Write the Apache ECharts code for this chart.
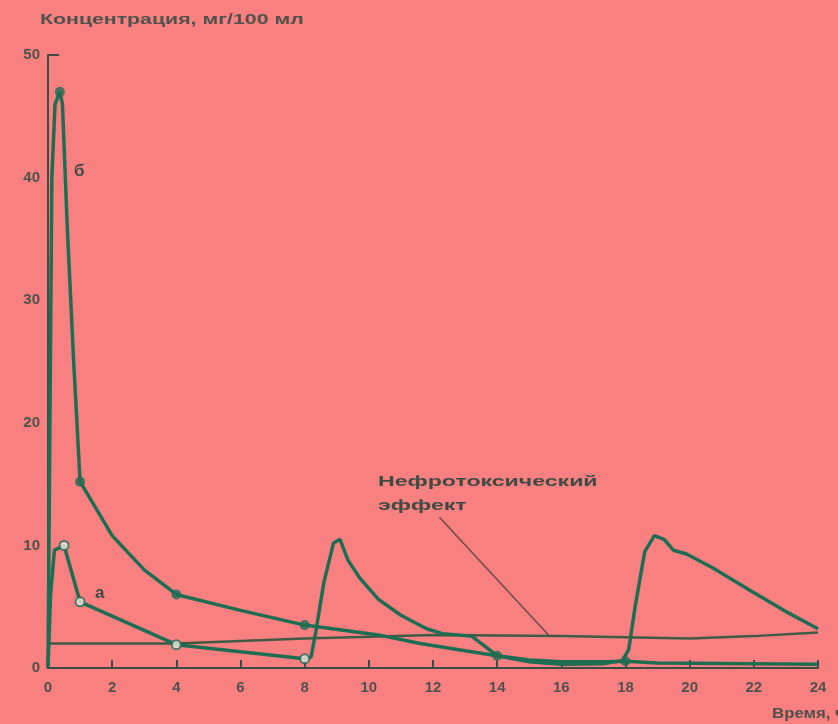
<!DOCTYPE html>
<html><head><meta charset="utf-8">
<script src="https://cdn.jsdelivr.net/npm/echarts@6/dist/echarts.min.js"></script>
<style>html,body{margin:0;padding:0;background:#F98080}#c{width:838px;height:724px}</style>
</head><body><div id="c"></div>
<script>
const titleText = 'Концентрация, мг/100 мл';
const xName = 'Время, ч';
const noteText = 'Нефротоксический\nэффект';
const labelA = 'а';
const labelB = 'б';

// curve б (single dose, filled markers)
const curveB = [[0,0],[0.06,20],[0.12,40],[0.22,46],[0.37,47],[0.45,46],[0.6,36],[0.8,25],[1,15.2],[2,10.8],[3,8],[4,6],[6,4.7],[8,3.5],[10.3,2.7],[11.6,2.0],[13,1.4],[14,1.0],[15,0.65],[16,0.5],[17.3,0.5],[18,0.55],[19,0.4],[24,0.3]];
const markersB = [[0.37,47],[1,15.2],[4,6],[8,3.5],[14,1.0],[18,0.55]];

// curve а (repeated doses, open markers)
const curveA = [[0,0],[0.08,6],[0.2,9.6],[0.5,10],[1,5.4],[4,1.9],[8,0.75],[8.2,0.9],[8.35,3],[8.6,7],[8.9,10.2],[9.1,10.5],[9.35,8.8],[9.7,7.4],[10.3,5.6],[11,4.3],[11.8,3.2],[12.3,2.8],[13.2,2.6],[13.6,1.8],[14,1.0],[15,0.5],[16,0.3],[17.3,0.35],[17.9,0.6],[18.1,1.5],[18.3,5],[18.6,9.5],[18.9,10.8],[19.2,10.5],[19.5,9.6],[19.9,9.3],[20.7,8.2],[21.9,6.3],[23,4.6],[24,3.2]];
const markersA = [[0.5,10],[1,5.4],[4,1.9],[8,0.75]];

// nephrotoxic threshold line
const toxLine = [[0,2],[4,2.0],[8,2.4],[12,2.7],[16,2.6],[20,2.4],[22,2.6],[24,2.9]];
// annotation pointer
const pointer = [[12.2,12.3],[15.6,2.7]];
// small hook at the top of the y axis
const yHook = [[0,50],[0.35,50]];

const xTicks = [0,2,4,6,8,10,12,14,16,18,20,22,24];
const yTicks = [0,10,20,30,40,50];

const green = '#1d6d52';
const dark = '#3e4a42';
const txt = '#4f524a';

const chart = echarts.init(document.getElementById('c'));
chart.setOption({
  backgroundColor: '#F98080',
  animation: false,
  grid: {left: 48, right: 20, top: 55, bottom: 56},
  xAxis: {type: 'value', min: 0, max: 24, interval: 2,
    axisLine: {lineStyle: {color: dark, width: 2}},
    axisTick: {inside: true, length: 8, lineStyle: {color: dark, width: 2}},
    axisLabel: {color: txt, fontSize: 15, fontWeight: 'bold', margin: 12, fontFamily: 'Liberation Sans',
      formatter: v => xTicks.includes(v) ? String(v) : ''},
    splitLine: {show: false}},
  yAxis: {type: 'value', min: 0, max: 50, interval: 10,
    axisLine: {show: true, lineStyle: {color: dark, width: 2}},
    axisTick: {show: false},
    axisLabel: {color: txt, fontSize: 15, fontWeight: 'bold', margin: 8, fontFamily: 'Liberation Sans',
      formatter: v => yTicks.includes(v) ? String(v) : ''},
    splitLine: {show: false}},
  graphic: [
    {type: 'text', left: 40, top: 12, scaleX: 1.42, style: {text: titleText, fill: txt, font: 'bold 15px "Liberation Sans"'}},
    {type: 'text', left: 772, top: 707, scaleX: 1.2, style: {text: xName, fill: txt, font: 'bold 14px "Liberation Sans"'}},
    {type: 'text', left: 378, top: 470, scaleX: 1.65, style: {text: noteText, fill: dark, font: 'bold 14px "Liberation Sans"', lineHeight: 24}},
    {type: 'text', left: 74, top: 163, style: {text: labelB, fill: dark, font: 'bold 17px "Liberation Sans"'}},
    {type: 'text', left: 95, top: 585, style: {text: labelA, fill: dark, font: 'bold 17px "Liberation Sans"'}}
  ],
  series: [
    {type: 'line', data: yHook, showSymbol: false, lineStyle: {color: dark, width: 2}, z: 2},
    {type: 'line', data: toxLine, showSymbol: false, lineStyle: {color: '#3f5a45', width: 2.5}, z: 2},
    {type: 'line', data: pointer, showSymbol: false, lineStyle: {color: '#6b4a48', width: 1.5}, z: 2},
    {type: 'line', data: curveB, showSymbol: false, lineStyle: {color: green, width: 3.5}, z: 3},
    {type: 'line', data: curveA, showSymbol: false, lineStyle: {color: green, width: 3.5}, z: 3},
    {type: 'scatter', data: markersB, symbol: 'circle', symbolSize: 10, itemStyle: {color: green}, z: 4},
    {type: 'scatter', data: markersA, symbol: 'circle', symbolSize: 9, itemStyle: {color: '#f4e8e0', borderColor: green, borderWidth: 2}, z: 4}
  ]
});
</script></body></html>
